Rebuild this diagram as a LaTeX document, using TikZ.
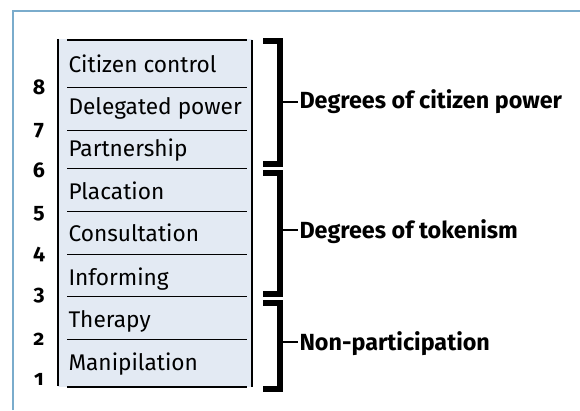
\documentclass[tikz,border=0pt]{standalone}
\usepackage{fontspec}
\setmainfont{Fira Sans}
\newfontfamily\oldnum{Fira Sans}[Numbers=OldStyle]

\definecolor{framebl}{RGB}{122,172,204}
\definecolor{ladderbg}{RGB}{227,234,243}

\tikzset{every picture/.style={line width=0.75pt}}
\tikzset{
  rungtext/.style={anchor=base west,inner sep=0.75pt,font=\fontsize{17}{19}\selectfont},
  rungnum/.style={anchor=base,inner sep=0.75pt,font=\oldnum\bfseries\fontsize{16}{18}\selectfont},
  grouplabel/.style={anchor=base west,inner sep=0.75pt,font=\bfseries\fontsize{17.5}{19}\selectfont},
  bracketline/.style={line width=4.5pt},
  railline/.style={line width=1.5pt},
  rungline/.style={line width=0.75pt},
}

\begin{document}
\begin{tikzpicture}[x=0.75pt,y=0.75pt,yscale=-1,xscale=1]
\useasboundingbox (0,0) rectangle (580,410);

%Frame
\draw [framebl,line width=1.5pt] (13,410) -- (13,11) -- (580,11) ;

%Ladder background
\fill [ladderbg] (58,39) rectangle (252,387) ;
%Rails
\draw [railline] (57.5,39) -- (57.5,385.5) ;
\draw [railline] (252,40) -- (252,387) ;
\draw [railline] (67,40) -- (247,40) ;
\draw [railline] (67,386.7) -- (247,386.7) ;
%Rungs
\draw [rungline] (67,87.3) -- (247,87.3) ;
\draw [rungline] (67,130) -- (247,130) ;
\draw [rungline] (67,168.3) -- (247,168.3) ;
\draw [rungline] (67,211.7) -- (247,211.7) ;
\draw [rungline] (67,254) -- (247,254) ;
\draw [rungline] (67,296.7) -- (247,296.7) ;
\draw [rungline] (67,339.3) -- (247,339.3) ;

% Text Node
\draw (67,72.7) node [rungtext] (r8) {Citizen control};
% Text Node
\draw (67,114.3) node [rungtext] (r7) {Delegated power};
% Text Node
\draw (67,156.7) node [rungtext] (r6) {Partnership};
% Text Node
\draw (67,199.3) node [rungtext] (r5) {Placation};
% Text Node
\draw (67,241.7) node [rungtext] (r4) {Consultation};
% Text Node
\draw (67,285) node [rungtext] (r3) {Informing};
% Text Node
\draw (67,327.7) node [rungtext] (r2) {Therapy};
% Text Node
\draw (67,370) node [rungtext] (r1) {Manipilation};

% Numbers
\draw (39,94) node [rungnum] (n8) {8};
\draw (39,135) node [rungnum] (n7) {7};
\draw (39,177) node [rungnum] (n6) {6};
\draw (39,218) node [rungnum] (n5) {5};
\draw (39,259) node [rungnum] (n4) {4};
\draw (39,300) node [rungnum] (n3) {3};
\draw (39,345) node [rungnum] (n2) {2};
\draw (39,385) node [rungnum] (n1) {1};

% Group labels
\draw (298,108.3) node [grouplabel] (gpower) {Degrees of citizen power};
\draw (298,238.3) node [grouplabel] (gtoken) {Degrees of tokenism};
\draw (298,350) node [grouplabel] (gnonpart) {Non-participation};

%Brackets
\draw [bracketline] (263,41.5) -| (280,164) -- (263,164) ;
\draw [bracketline] (263,173) -| (280,294) -- (263,294) ;
\draw [bracketline] (263,303) -| (280,389) -- (263,389) ;
\coordinate (tpower) at (282,102);
\coordinate (ttoken) at (282,230);
\coordinate (tnonpart) at (282,342);
\draw [line width=1.5pt] (tpower) -- (tpower -| gpower.west) ;
\draw [line width=1.5pt] (ttoken) -- (ttoken -| gtoken.west) ;
\draw [line width=1.5pt] (tnonpart) -- (tnonpart -| gnonpart.west) ;

\end{tikzpicture}
\end{document}
